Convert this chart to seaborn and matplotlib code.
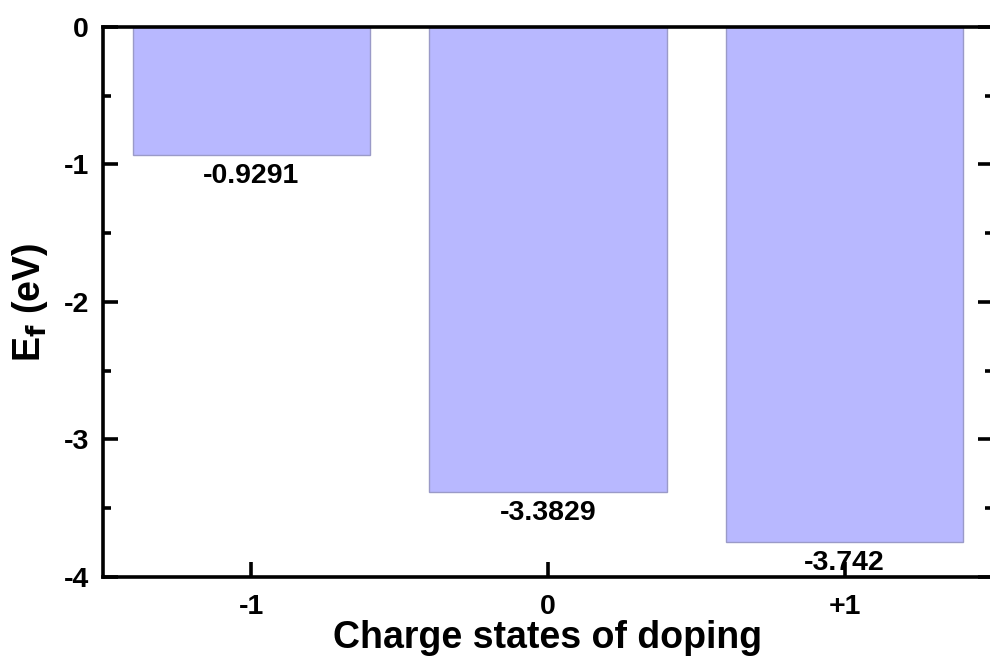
import matplotlib
matplotlib.use("Agg")
import matplotlib.pyplot as plt
import seaborn as sns
import pandas as pd
from matplotlib.ticker import MultipleLocator

categories = ["-1", "0", "+1"]
values = [-0.9291, -3.3829, -3.742]
yticks = [0, -1, -2, -3, -4]

sns.set_style("ticks")
plt.rcParams['font.family'] = ['Liberation Sans', 'DejaVu Sans']
plt.rcParams['font.weight'] = 'bold'
plt.rcParams['axes.unicode_minus'] = False
for k in ['text.color', 'axes.labelcolor', 'xtick.color', 'ytick.color', 'axes.edgecolor']:
    plt.rcParams[k] = 'black'

df = pd.DataFrame({"charge": categories, "ef": values})

fig = plt.figure(figsize=(9.9, 6.58), dpi=100)
ax = fig.add_axes([0.104, 0.1231, 0.899, 0.836])

sns.barplot(data=df, x="charge", y="ef", order=categories, color="#b8b8ff",
            saturation=1, width=0.8, edgecolor="#9a9ac8", linewidth=1.0, ax=ax)

ax.set_ylim(-4, 0)
ax.set_xlim(-0.5, 2.5)
ax.set_yticks(yticks)
ax.set_yticklabels([str(t) for t in yticks])
ax.yaxis.set_minor_locator(MultipleLocator(0.5))

for s in ax.spines.values():
    s.set_linewidth(2.6)
    s.set_color("black")
    s.set_visible(True)

ax.tick_params(axis="both", which="major", direction="in", length=11, width=2.6,
               top=True, right=True, labelsize=20.5, color="black", labelcolor="black")
ax.tick_params(axis="y", which="minor", direction="in", length=6, width=2.6,
               left=True, right=True, color="black")
ax.tick_params(axis="x", which="major", pad=12)
ax.tick_params(axis="y", which="major", pad=10)
for lab in ax.get_xticklabels() + ax.get_yticklabels():
    lab.set_fontweight("bold")

ax.set_xlabel("Charge states of doping", fontsize=27, fontweight="bold", labelpad=0,
              color="black")
ax.set_ylabel(r"E$_\mathbf{f}$ (eV)", fontsize=27, fontweight="bold", labelpad=10,
              color="black")

for c in ax.containers:
    ax.bar_label(c, fmt="%g", padding=6, fontsize=20.5, fontweight="bold", color="black")

fig.savefig("out.png", dpi=100)
